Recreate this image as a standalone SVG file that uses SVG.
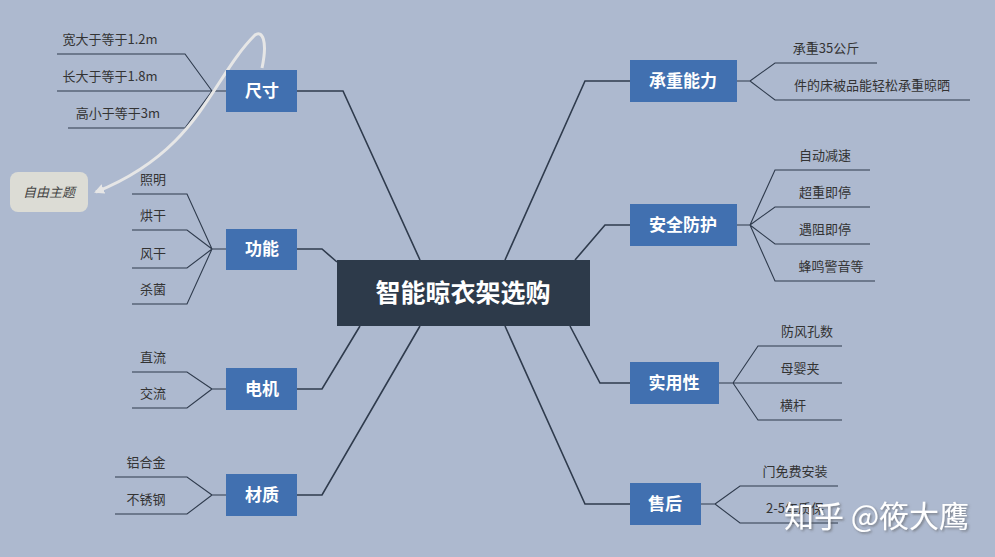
<svg xmlns="http://www.w3.org/2000/svg" width="995" height="557" viewBox="0 0 995 557">
<style>
text{font-family:"Noto Sans CJK SC","Liberation Sans",sans-serif}
.b{fill:#4170b0}
.bt{fill:#fff;font-size:17px;font-weight:bold;text-anchor:middle}
.l{fill:#333;font-size:13px;text-anchor:middle}
.c{fill:none;stroke:#2f3b4d;stroke-width:1.6}
.u{fill:none;stroke:#2f3b4d;stroke-width:1.1}
</style>
<defs><marker id="ah" markerWidth="10" markerHeight="10" refX="8" refY="5" orient="auto" markerUnits="userSpaceOnUse"><path d="M0,0 L10,5 L0,10 z" fill="#e6e6e6"/></marker>
<filter id="sh"><feDropShadow dx="1.5" dy="1.5" stdDeviation="0.8" flood-color="#555" flood-opacity="0.6"/></filter></defs>
<rect width="995" height="557" fill="#adb9cf"/>
<g id="connectors">
<path class="c" d="M297 91H343L420 260"/>
<path class="c" d="M297 249H322L337 262"/>
<path class="c" d="M297 389H322L360 326"/>
<path class="c" d="M297 495H322L420 326"/>
<path class="c" d="M630 81H585L505 260"/>
<path class="c" d="M630 225H605L575 260"/>
<path class="c" d="M630 383H600L570 326"/>
<path class="c" d="M630 504H585L505 326"/>
<path class="u" d="M226 91H212M57 54H185L212 91M57 91H212M68 128H185L212 91"/>
<path class="u" d="M226 249H212M132 194H187L212 249M132 230H187L212 249M132 268H187L212 249M132 304H187L212 249"/>
<path class="u" d="M226 389H212M132 372H187L212 389M132 408H187L212 389"/>
<path class="u" d="M226 495H212M115 477H187L212 495M115 514H187L212 495"/>
<path class="u" d="M737 81H750M877 63H775L750 81M970 100H775L750 81"/>
<path class="u" d="M737 225H750M870 170H775L750 225M870 207H775L750 225M870 244H775L750 225M875 281H775L750 225"/>
<path class="u" d="M719 383H733M842 346H758L733 383M842 383H733M842 420H758L733 383"/>
<path class="u" d="M701 504H715M838 486H740L715 504M838 523H740L715 504"/>
<path d="M262 68C268 40 262 30 255 35C210 80 200 150 96 192" fill="none" stroke="#e6e6e6" stroke-width="3" marker-end="url(#ah)"/>
</g>
<g id="center"><rect x="337" y="260" width="253" height="66" fill="#2d3a4a"/><text x="463" y="302" fill="#fff" font-size="25" font-weight="bold" text-anchor="middle">智能晾衣架选购</text></g>
<g id="n1"><rect class="b" x="226" y="70" width="71" height="42"/><text class="bt" x="262" y="97">尺寸</text>
<text class="l" x="110" y="44">宽大于等于1.2m</text><text class="l" x="110" y="81">长大于等于1.8m</text><text class="l" x="118" y="118">高小于等于3m</text></g>
<g id="n2"><rect class="b" x="226" y="229" width="71" height="41"/><text class="bt" x="262" y="255">功能</text>
<text class="l" x="153" y="184">照明</text><text class="l" x="153" y="220">烘干</text><text class="l" x="153" y="258">风干</text><text class="l" x="153" y="294">杀菌</text></g>
<g id="n3"><rect class="b" x="226" y="368" width="71" height="42"/><text class="bt" x="262" y="395">电机</text>
<text class="l" x="153" y="362">直流</text><text class="l" x="153" y="398">交流</text></g>
<g id="n4"><rect class="b" x="226" y="474" width="71" height="42"/><text class="bt" x="262" y="501">材质</text>
<text class="l" x="146" y="467">铝合金</text><text class="l" x="146" y="504">不锈钢</text></g>
<g id="n5"><rect class="b" x="630" y="60" width="107" height="42"/><text class="bt" x="683" y="87">承重能力</text>
<text class="l" x="826" y="53">承重35公斤</text><text class="l" x="872" y="90">件的床被品能轻松承重晾晒</text></g>
<g id="n6"><rect class="b" x="630" y="204" width="107" height="42"/><text class="bt" x="683" y="231">安全防护</text>
<text class="l" x="825" y="160">自动减速</text><text class="l" x="825" y="197">超重即停</text><text class="l" x="825" y="234">遇阻即停</text><text class="l" x="831" y="271">蜂鸣警音等</text></g>
<g id="n7"><rect class="b" x="630" y="362" width="89" height="42"/><text class="bt" x="674" y="389">实用性</text>
<text class="l" x="807" y="336">防风孔数</text><text class="l" x="800" y="373">母婴夹</text><text class="l" x="793" y="410">横杆</text></g>
<g id="n8"><rect class="b" x="630" y="483" width="71" height="42"/><text class="bt" x="665" y="510">售后</text>
<text class="l" x="795" y="476">门免费安装</text><text class="l" x="795" y="513">2-5年质保</text></g>
<g id="free"><rect x="10" y="172" width="78" height="40" rx="8" fill="#dcdcd5"/><text x="49" y="197" fill="#444" font-size="13" font-style="italic" text-anchor="middle">自由主题</text></g>
<g id="watermark"><text x="784" y="527" fill="#fff" font-size="30" filter="url(#sh)">知乎 @筱大鹰</text></g>
</svg>
